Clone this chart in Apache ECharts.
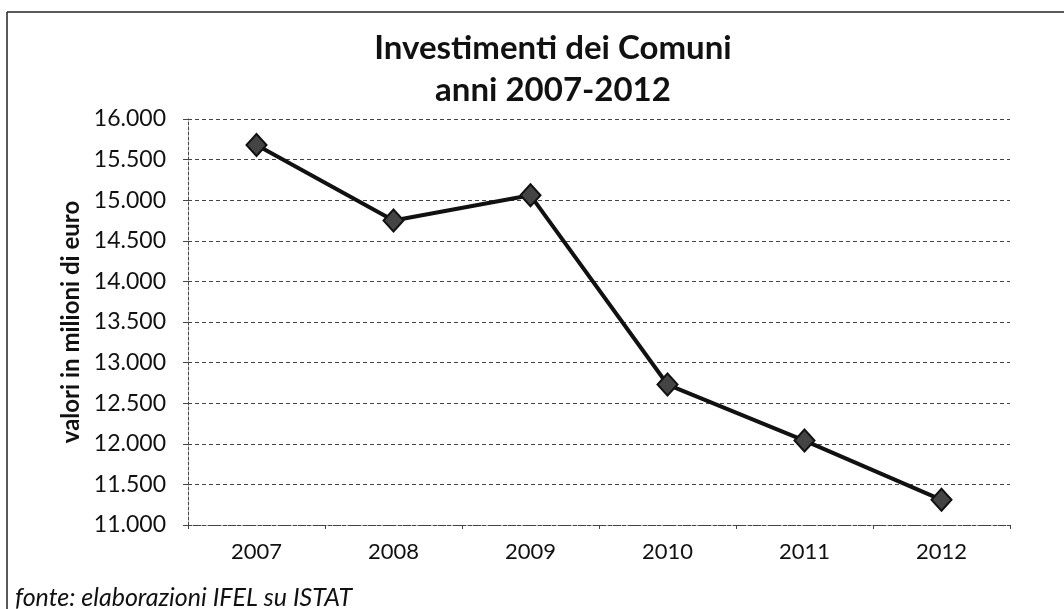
<!DOCTYPE html>
<html>
<head>
<meta charset="utf-8">
<script src="https://cdn.jsdelivr.net/npm/echarts@6/dist/echarts.min.js"></script>
<style>
  html, body { margin: 0; padding: 0; background: #fff; }
  #chart { width: 1064px; height: 609px; }
</style>
</head>
<body>
<div id="chart"></div>
<script>
// anni
var years = ['2007', '2008', '2009', '2010', '2011', '2012'];
// investimenti in milioni di euro
var investimenti = [15680, 14750, 15060, 12730, 12040, 11310];

var font = 'Lato, "Open Sans", sans-serif';

function fmt(v) {
    // separatore migliaia col punto
    return String(v).replace(/\B(?=(\d{3})+(?!\d))/g, '.');
}

var chart = echarts.init(document.getElementById('chart'));

var option = {
    backgroundColor: '#fff',
    animation: false,
    title: [
        {
            text: 'Investimenti dei Comuni\nanni 2007-2012',
            left: 548,
            textAlign: 'center',
            top: 22,
            textStyle: {
                fontFamily: font,
                fontSize: 33,
                fontWeight: 'bold',
                color: '#111',
                lineHeight: 42
            }
        },
        {
            text: 'fonte: elaborazioni IFEL su ISTAT',
            left: 10,
            top: 580,
            textStyle: {
                fontFamily: font,
                fontSize: 25,
                fontStyle: 'italic',
                fontWeight: 'normal',
                color: '#111'
            }
        }
    ],
    grid: {
        left: 188,
        right: 54,
        top: 119,
        bottom: 84
    },
    xAxis: {
        type: 'category',
        data: years,
        boundaryGap: true,
        axisLine: {
            show: true,
            lineStyle: { color: '#444', type: [3, 2], width: 1 }
        },
        axisTick: {
            show: true,
            length: 4,
            lineStyle: { color: '#444' }
        },
        axisLabel: {
            fontFamily: font,
            fontSize: 22,
            color: '#111',
            margin: 16
        }
    },
    yAxis: {
        type: 'value',
        min: 11000,
        max: 16000,
        interval: 500,
        name: 'valori in milioni di euro',
        nameLocation: 'middle',
        nameGap: 104,
        nameTextStyle: {
            fontFamily: font,
            fontSize: 24,
            fontWeight: 'bold',
            color: '#111'
        },
        axisLine: {
            show: true,
            lineStyle: { color: '#444', type: [3, 2], width: 1 }
        },
        axisTick: {
            show: true,
            length: 5,
            lineStyle: { color: '#444' }
        },
        axisLabel: {
            fontFamily: font,
            fontSize: 23,
            color: '#111',
            margin: 22,
            formatter: fmt
        },
        splitLine: {
            show: true,
            lineStyle: { color: '#444', type: [4, 3], width: 1 }
        }
    },
    series: [
        {
            name: 'Investimenti',
            type: 'line',
            data: investimenti,
            symbol: 'diamond',
            symbolSize: [20, 22],
            itemStyle: {
                color: '#444',
                borderColor: '#111',
                borderWidth: 2
            },
            lineStyle: {
                color: '#111',
                width: 4
            }
        }
    ],
    graphic: [
        // cornice in alto e a sinistra
        {
            type: 'line',
            shape: { x1: 7, y1: 12, x2: 1064, y2: 12 },
            style: { stroke: '#222', lineWidth: 1.5 }
        },
        {
            type: 'line',
            shape: { x1: 7, y1: 12, x2: 7, y2: 609 },
            style: { stroke: '#222', lineWidth: 1.5 }
        }
    ]
};

chart.setOption(option);
</script>
</body>
</html>
